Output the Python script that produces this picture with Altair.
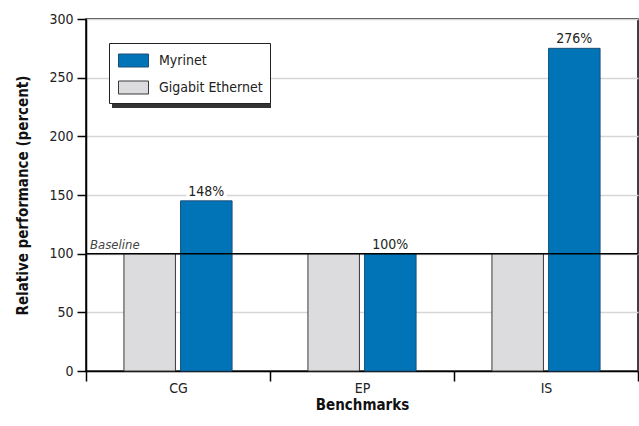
import altair as alt
import pandas as pd

benchmarks = ["CG", "EP", "IS"]
series_names = ["Myrinet", "Gigabit Ethernet"]
bar_order = ["Gigabit Ethernet", "Myrinet"]
myrinet = [145, 100, 275]
gigabit = [100, 100, 100]
pct_labels = ["148%", "100%", "276%"]
y_ticks = [0, 50, 100, 150, 200, 250, 300]
baseline_value = 100

FONT = "Liberation Sans Narrow, DejaVu Sans Condensed, sans-serif"
BLUE = "#0074b7"
GREY = "#dcdcde"

rows = []
for b, m, g in zip(benchmarks, myrinet, gigabit):
    rows.append({"bench": b, "series": "Gigabit Ethernet", "value": g})
    rows.append({"bench": b, "series": "Myrinet", "value": m})
df = pd.DataFrame(rows)
lab = pd.DataFrame({"bench": benchmarks, "series": ["Myrinet"] * 3,
                    "value": myrinet, "label": pct_labels})

x = alt.X("bench:N", sort=benchmarks,
          scale=alt.Scale(paddingInner=0, paddingOuter=0),
          axis=alt.Axis(title="Benchmarks", tickBand="extent", labelAngle=0,
                        tickSize=10, labelPadding=0, labelFontSize=14, labelFont=FONT,
                        labelColor="#222", domainColor="black", domainWidth=1.5,
                        tickColor="black", tickWidth=1.5,
                        titleFont=FONT, titleFontSize=15, titleFontWeight="bold",
                        titleColor="#111", titleY=33, titleBaseline="middle"))
xoff = alt.XOffset("series:N", sort=bar_order,
                   scale=alt.Scale(domain=bar_order, paddingInner=0.09, paddingOuter=0.67))
y = alt.Y("value:Q", scale=alt.Scale(domain=[0, 300], nice=False),
          axis=alt.Axis(values=y_ticks, title="Relative performance (percent)",
                        tickSize=9, labelPadding=4, labelFontSize=14, labelFont=FONT,
                        labelColor="#222", domainColor="black", domainWidth=1.5,
                        tickColor="black", tickWidth=1.5,
                        gridColor="#d6d6d6", gridWidth=1.5,
                        titleFont=FONT, titleFontSize=15, titleFontWeight="bold",
                        titleColor="#111", titleX=-64, titleY=176,
                        titleAngle=270, titleBaseline="middle", titleAlign="center"))
color = alt.Color("series:N", scale=alt.Scale(domain=series_names, range=[BLUE, GREY]),
                  legend=alt.Legend(title=None, orient="none", legendX=23, legendY=24,
                                    symbolType="M-1.5,-0.65H1.5V0.65H-1.5Z", symbolSize=400,
                                    symbolStrokeColor="#222", symbolStrokeWidth=1,
                                    symbolOpacity=1,
                                    labelFontSize=14, labelFont=FONT, labelColor="#222",
                                    padding=7, symbolOffset=7, labelOffset=15, rowPadding=8,
                                    strokeColor="#222", fillColor="white"))
stroke = alt.Stroke("series:N", scale=alt.Scale(domain=series_names, range=["#1b4f78", "#3a3a3a"]),
                    legend=None)

halo = alt.Chart(lab).mark_text(baseline="bottom", dy=-2, fontSize=14, font=FONT,
                                stroke="white", strokeWidth=7, color="white").encode(
    x=x, xOffset=xoff, y=y, text="label:N")

bars = alt.Chart(df).mark_bar(strokeWidth=1).encode(x=x, xOffset=xoff, y=y, color=color, stroke=stroke)

rule = alt.Chart(pd.DataFrame({"k": [0]})).mark_rule(color="black", strokeWidth=1.5).encode(
    y=alt.datum(baseline_value))

base_txt = alt.Chart(pd.DataFrame({"k": [0]})).mark_text(
    align="left", baseline="bottom", fontStyle="italic", fontSize=13, font=FONT,
    color="#444", dy=-2).encode(x=alt.value(4), y=alt.datum(baseline_value),
                                text=alt.value("Baseline"))

txt = alt.Chart(lab).mark_text(baseline="bottom", dy=-2, fontSize=14, font=FONT,
                               color="#222").encode(
    x=x, xOffset=xoff, y=y, text="label:N")

shadow = alt.Chart(pd.DataFrame({"k": [0]})).mark_rect(color="#333").encode(
    x=alt.value(26), x2=alt.value(185), y=alt.value(27), y2=alt.value(89))

chart = alt.layer(halo, bars, rule, txt, base_txt, shadow).properties(
    width=552, height=352,
    padding={"left": 86, "top": 19, "right": 1, "bottom": 55},
    autosize=alt.AutoSizeParams(type="none"),
).configure_view(stroke="black", strokeWidth=1.5)

chart.save("out.html", embed_options={"renderer": "svg", "actions": False})
